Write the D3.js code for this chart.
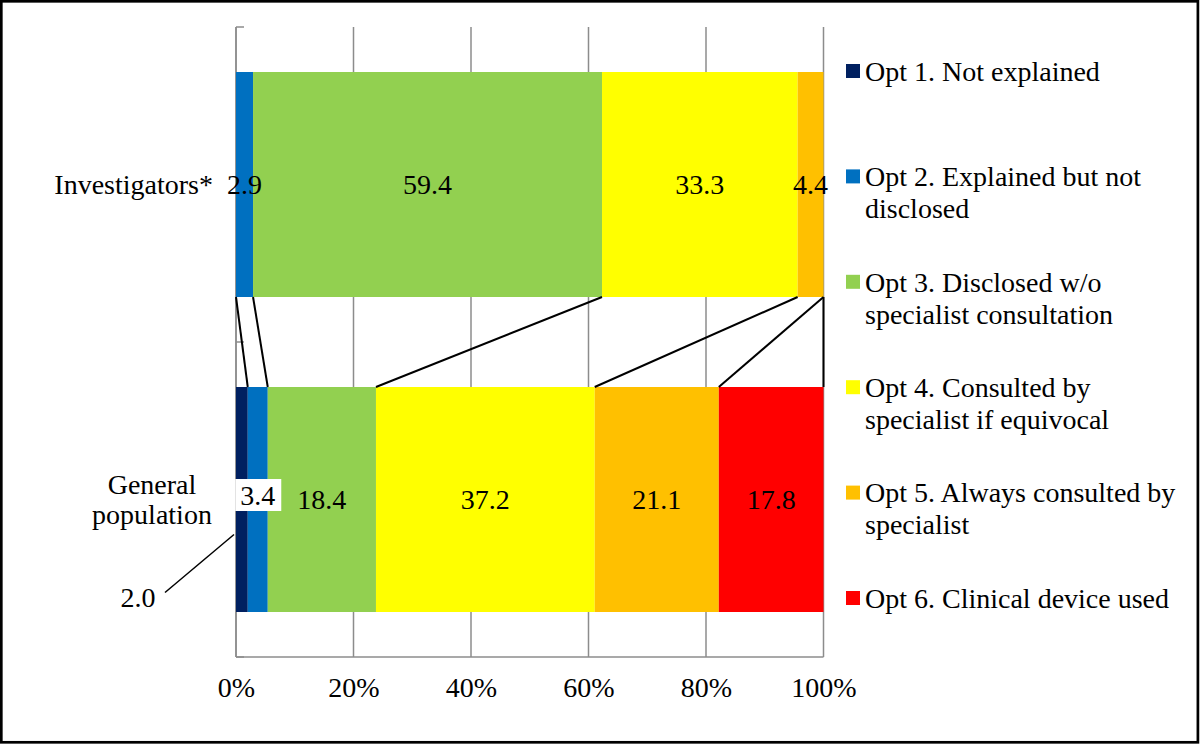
<!DOCTYPE html>
<html>
<head>
<meta charset="utf-8">
<script src="https://cdn.jsdelivr.net/npm/d3@7"></script>
</head>
<body style="margin:0">
<svg id="fig" width="1200" height="745"></svg>
<script>
// values
var categories = ["Investigators*", "General population"];
var options = ["Opt 1. Not explained", "Opt 2. Explained but not disclosed",
  "Opt 3. Disclosed w/o specialist consultation", "Opt 4. Consulted by specialist if equivocal",
  "Opt 5. Always consulted by specialist", "Opt 6. Clinical device used"];
var legendLines = [["Opt 1. Not explained"], ["Opt 2. Explained but not", "disclosed"],
  ["Opt 3. Disclosed w/o", "specialist consultation"], ["Opt 4. Consulted by", "specialist if equivocal"],
  ["Opt 5. Always consulted by", "specialist"], ["Opt 6. Clinical device used"]];
var investigators = [0, 2.9, 59.4, 33.3, 4.4, 0];
var general = [2.0, 3.4, 18.4, 37.2, 21.1, 17.8];
var colors = ["#002060", "#0070c0", "#92d050", "#ffff00", "#ffc000", "#ff0000"];
var tickValues = [0, 0.2, 0.4, 0.6, 0.8, 1];

var FONT = "Liberation Serif";
var fs = 28;
var svg = d3.select("#fig");

svg.append("rect")
  .attr("x", 1.3).attr("y", 1.3).attr("width", 1196.6).attr("height", 741)
  .attr("fill", "#fff").attr("stroke", "#000").attr("stroke-width", 2.7);

var x = d3.scaleLinear().domain([0, 1]).range([236, 823.5]);
var y = d3.scaleBand().domain(categories).range([27, 657])
  .paddingInner(90 / 315).paddingOuter(45 / 315);
var bw = y.bandwidth();

var rows = categories.map(function(c, i) {
  var src = i === 0 ? investigators : general;
  var r = { cat: c };
  options.forEach(function(o, k) { r[o] = src[k]; });
  return r;
});
var series = d3.stack().keys(options).offset(d3.stackOffsetExpand)(rows);

// gridlines
svg.append("g").attr("stroke", "#8c8c8c").attr("stroke-width", 1.5)
  .selectAll("line").data(tickValues).join("line")
  .attr("x1", d => x(d)).attr("x2", d => x(d))
  .attr("y1", 27).attr("y2", 657);

// axis frame
var frame = svg.append("g").attr("stroke", "#8c8c8c").attr("stroke-width", 1.5);
frame.append("line").attr("x1", x(0)).attr("x2", x(1)).attr("y1", 657).attr("y2", 657);
frame.append("line").attr("x1", x(0)).attr("x2", x(0)).attr("y1", 27).attr("y2", 657);
[27, 342, 657].forEach(function(t) {
  frame.append("line").attr("x1", x(0)).attr("x2", x(0) + 8).attr("y1", t).attr("y2", t);
});

// bars
svg.append("g").selectAll("g").data(series).join("g")
  .attr("fill", (d, i) => colors[i])
  .selectAll("rect").data(d => d).join("rect")
  .attr("x", d => x(d[0]))
  .attr("width", d => x(d[1]) - x(d[0]))
  .attr("y", d => y(d.data.cat))
  .attr("height", bw);

// series lines between bars
svg.append("g").attr("stroke", "#000").attr("stroke-width", 2)
  .selectAll("line").data(series).join("line")
  .attr("x1", d => x(d[0][1])).attr("y1", y(categories[0]) + bw)
  .attr("x2", d => x(d[1][1])).attr("y2", y(categories[1]));

function txt(sel) {
  return sel.append("text").attr("font-family", FONT).attr("font-size", fs).attr("fill", "#000");
}

// data labels
var labels = svg.append("g");
series.forEach(function(s, k) {
  s.forEach(function(d, ci) {
    var v = ci === 0 ? investigators[k] : general[k];
    if (!v) return;
    var cx = (x(d[0]) + x(d[1])) / 2;
    var cy = y(d.data.cat) + bw / 2;
    var label = v.toFixed(1);
    if (ci === 1 && k === 0) {
      // pulled outside with a leader line
      svg.append("line").attr("stroke", "#000").attr("stroke-width", 1.5)
        .attr("x1", 165).attr("y1", cy + 93).attr("x2", x(d[0]) - 2).attr("y2", cy + 35);
      txt(labels).attr("text-anchor", "middle").attr("x", 138).attr("y", cy + 98)
        .attr("dy", "0.35em").text(label);
      return;
    }
    if (ci === 1 && k === 1) {
      cy -= 4.5;
      var t = txt(labels).attr("text-anchor", "middle").attr("x", cx).attr("y", cy)
        .attr("dy", "0.35em").text(label);
      var bb = t.node().getBBox();
      labels.insert("rect", "text:last-child")
        .attr("x", bb.x - 5).attr("y", cy - 16).attr("width", bb.width + 11).attr("height", 32)
        .attr("fill", "#fff");
      return;
    }
    txt(labels).attr("text-anchor", "middle").attr("x", cx).attr("y", cy)
      .attr("dy", "0.35em").text(label);
  });
});

// category labels
var cat = svg.append("g");
txt(cat).attr("x", 213).attr("y", y(categories[0]) + bw / 2)
  .attr("dy", "0.35em").attr("text-anchor", "end").text("Investigators*");
var gp = txt(cat).attr("text-anchor", "middle");
["General", "population"].forEach(function(l, i) {
  gp.append("tspan").attr("x", 152).attr("y", y(categories[1]) + bw / 2 - 15 + i * 30)
    .attr("dy", "0.35em").text(l);
});

// value axis labels
var ax = svg.append("g").attr("transform", "translate(0,657)")
  .call(d3.axisBottom(x).tickValues(tickValues).tickFormat(d3.format(".0%")).tickSize(0).tickPadding(20));
ax.select(".domain").remove();
ax.selectAll("text").attr("font-family", FONT).attr("font-size", fs).attr("fill", "#000");

// legend
var lg = svg.append("g");
legendLines.forEach(function(lines, i) {
  var cy = 71 + i * 105.4;
  lg.append("rect").attr("x", 846).attr("y", cy - 7).attr("width", 14).attr("height", 14)
    .attr("fill", colors[i]);
  var t = txt(lg);
  lines.forEach(function(l, j) {
    t.append("tspan").attr("x", 865).attr("y", cy + j * 32).attr("dy", "0.35em").text(l);
  });
});
</script>
</body>
</html>
